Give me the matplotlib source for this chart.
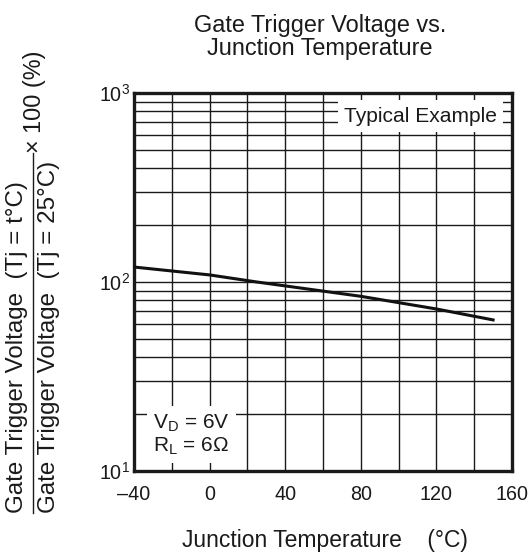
import matplotlib
matplotlib.use("Agg")
import matplotlib.pyplot as plt
from matplotlib.lines import Line2D
import numpy as np

plt.rcParams['font.family'] = ['Liberation Sans', 'DejaVu Sans']
plt.rcParams['mathtext.fontset'] = 'custom'
plt.rcParams['mathtext.rm'] = 'Liberation Sans'
plt.rcParams['mathtext.it'] = 'Liberation Sans:italic'
plt.rcParams['mathtext.bf'] = 'Liberation Sans:bold'

# Data
temps = [-40, 0, 25, 80, 120, 150]
ratio_pct = [120, 109, 100, 84, 72, 63]

x_ticks = [-40, 0, 40, 80, 120, 160]
x_tick_labels = ['\u201340', '0', '40', '80', '120', '160']
y_ticks = [10, 100, 1000]
y_tick_labels = ['$10^1$', '$10^2$', '$10^3$']

title = "Gate Trigger Voltage vs.\nJunction Temperature"
xlabel = "Junction Temperature    (\u00b0C)"
num_label = "Gate Trigger Voltage  (Tj = t\u00b0C)"
den_label = "Gate Trigger Voltage  (Tj = 25\u00b0C)"
mult_label = "\u00d7 100 (%)"

W, H = 529, 554
TXT = '#1a1a1a'
fig = plt.figure(figsize=(W / 100, H / 100), dpi=100)
ax = fig.add_axes([134 / W, 1 - 471 / H, (512 - 134) / W, (471 - 93) / H])

ax.set_yscale('log')
ax.set_xlim(-40, 160)
ax.set_ylim(10, 1000)

# grid
gcol = '#1a1a1a'
for xv in range(-20, 160, 20):
    ax.axvline(xv, color=gcol, lw=1.0, zorder=1)
for dec in [10, 100]:
    for m in range(1, 10):
        yv = dec * m
        if yv == 10:
            continue
        ax.axhline(yv, color=gcol, lw=1.0, zorder=1)

ax.plot(temps, ratio_pct, color='#111111', lw=2.2, zorder=3)

ax.set_xticks(x_ticks)
ax.set_xticklabels(x_tick_labels)
ax.set_yticks(y_ticks)
ax.set_yticklabels(y_tick_labels)
ax.yaxis.set_minor_locator(matplotlib.ticker.NullLocator())
ax.tick_params(axis='both', length=0, labelsize=14.2, colors=TXT)
ax.tick_params(axis='x', pad=10)
ax.tick_params(axis='y', pad=3)

for s in ax.spines.values():
    s.set_linewidth(2.4)
    s.set_color(TXT)

ax.text(0.960, 0.939, "Typical Example", transform=ax.transAxes, ha='right', va='center',
        fontsize=15.1, color=TXT, zorder=4,
        bbox=dict(boxstyle='square,pad=0.3', facecolor='white', edgecolor='none'))
ax.text(0.050, 0.0965, "$\\mathrm{V_D}$ = 6V\n$\\mathrm{R_L}$ = 6\u03a9", transform=ax.transAxes,
        ha='left', va='center', fontsize=15, color=TXT, linespacing=1.1, zorder=4,
        bbox=dict(boxstyle='square,pad=0.3', facecolor='white', edgecolor='none'))

fig.text(320 / W, 1 - 37 / H, title, ha='center', va='center', fontsize=16.9,
         color=TXT, linespacing=1.0)
fig.text(325 / W, 1 - 541 / H, xlabel, ha='center', va='center', fontsize=16.5, color=TXT)

# y label fraction
fig.text(17 / W, 1 - 513 / H, num_label, rotation=90, ha='left', va='center',
         fontsize=17.4, color=TXT, rotation_mode='anchor')
fig.text(49 / W, 1 - 513 / H, den_label, rotation=90, ha='left', va='center',
         fontsize=17.4, color=TXT, rotation_mode='anchor')
fig.add_artist(Line2D([33 / W, 33 / W], [1 - 513 / H, 1 - 153 / H], transform=fig.transFigure,
                      color=TXT, lw=1.0))
fig.text(35 / W, 1 - 153 / H, mult_label, rotation=90, ha='left', va='center',
         fontsize=16.8, color=TXT, rotation_mode='anchor')

fig.savefig('out.png', dpi=100)
